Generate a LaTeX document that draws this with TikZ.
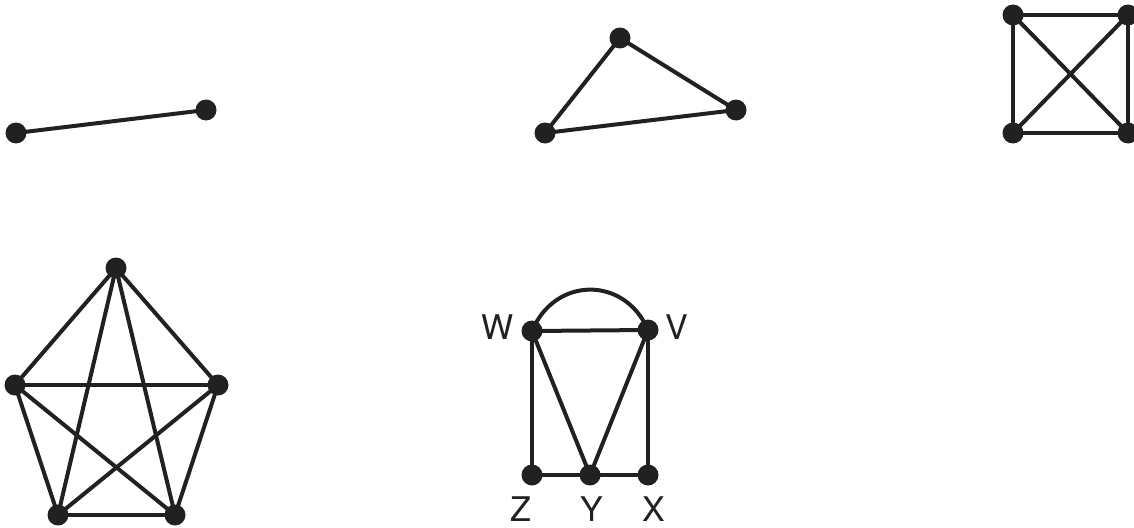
\documentclass[tikz,border=0pt]{standalone}
\usepackage{fontspec}
\setmainfont{TeX Gyre Heros}
\tikzset{
  vtx/.style={circle,fill=black!87,inner sep=0pt,minimum size=21pt},
  edge/.style={line width=4pt,draw=black!87},
  lbl/.style={font=\fontsize{34}{40}\selectfont,text=black!87,inner sep=0pt}
}
\begin{document}
\begin{tikzpicture}[x=1pt,y=-1pt]
\useasboundingbox (0,0) rectangle (1134,527);
% K2
\coordinate (a1) at (16,133);
\coordinate (a2) at (206,110);
% K3
\coordinate (b1) at (620,38);
\coordinate (b2) at (545,133);
\coordinate (b3) at (736,110);
% K4
\coordinate (c1) at (1013,15);
\coordinate (c2) at (1128,15);
\coordinate (c3) at (1013,133);
\coordinate (c4) at (1128,133);
% K5
\coordinate (d1) at (116,268);
\coordinate (d2) at (15,385);
\coordinate (d3) at (218,385);
\coordinate (d4) at (58,515);
\coordinate (d5) at (175,515);
% G
\coordinate (W) at (532,331);
\coordinate (V) at (648,330);
\coordinate (Z) at (532,475);
\coordinate (Y) at (590,475);
\coordinate (X) at (648,475);

\draw[edge] (a1) -- (a2);
\draw[edge] (b1) -- (b2) -- (b3) -- cycle;
\draw[edge] (c1) -- (c2) -- (c4) -- (c3) -- cycle;
\draw[edge] (c1) -- (c4);
\draw[edge] (c2) -- (c3);
\foreach \p/\q in {d1/d2,d1/d3,d1/d4,d1/d5,d2/d3,d2/d4,d2/d5,d3/d4,d3/d5,d4/d5}
  \draw[edge] (\p) -- (\q);
\draw[edge] (W) -- (V);
\draw[edge] (W) .. controls (555,276) and (625,276) .. (V);
\draw[edge] (W) -- (Z);
\draw[edge] (W) -- (Y);
\draw[edge] (V) -- (Y);
\draw[edge] (V) -- (X);
\draw[edge] (Z) -- (Y) -- (X);

\foreach \n in {a1,a2,b1,b2,b3,c1,c2,c3,c4,d1,d2,d3,d4,d5,W,V,Z,Y,X}
  \node[vtx] (n\n) at (\n) {};

\node[lbl] (tW) at (498,327) {W};
\node[lbl] (tV) at (677,327) {V};
\node[lbl] (tZ) at (521,509) {Z};
\node[lbl] (tY) at (592,509) {Y};
\node[lbl] (tX) at (654,509) {X};
\end{tikzpicture}
\end{document}
